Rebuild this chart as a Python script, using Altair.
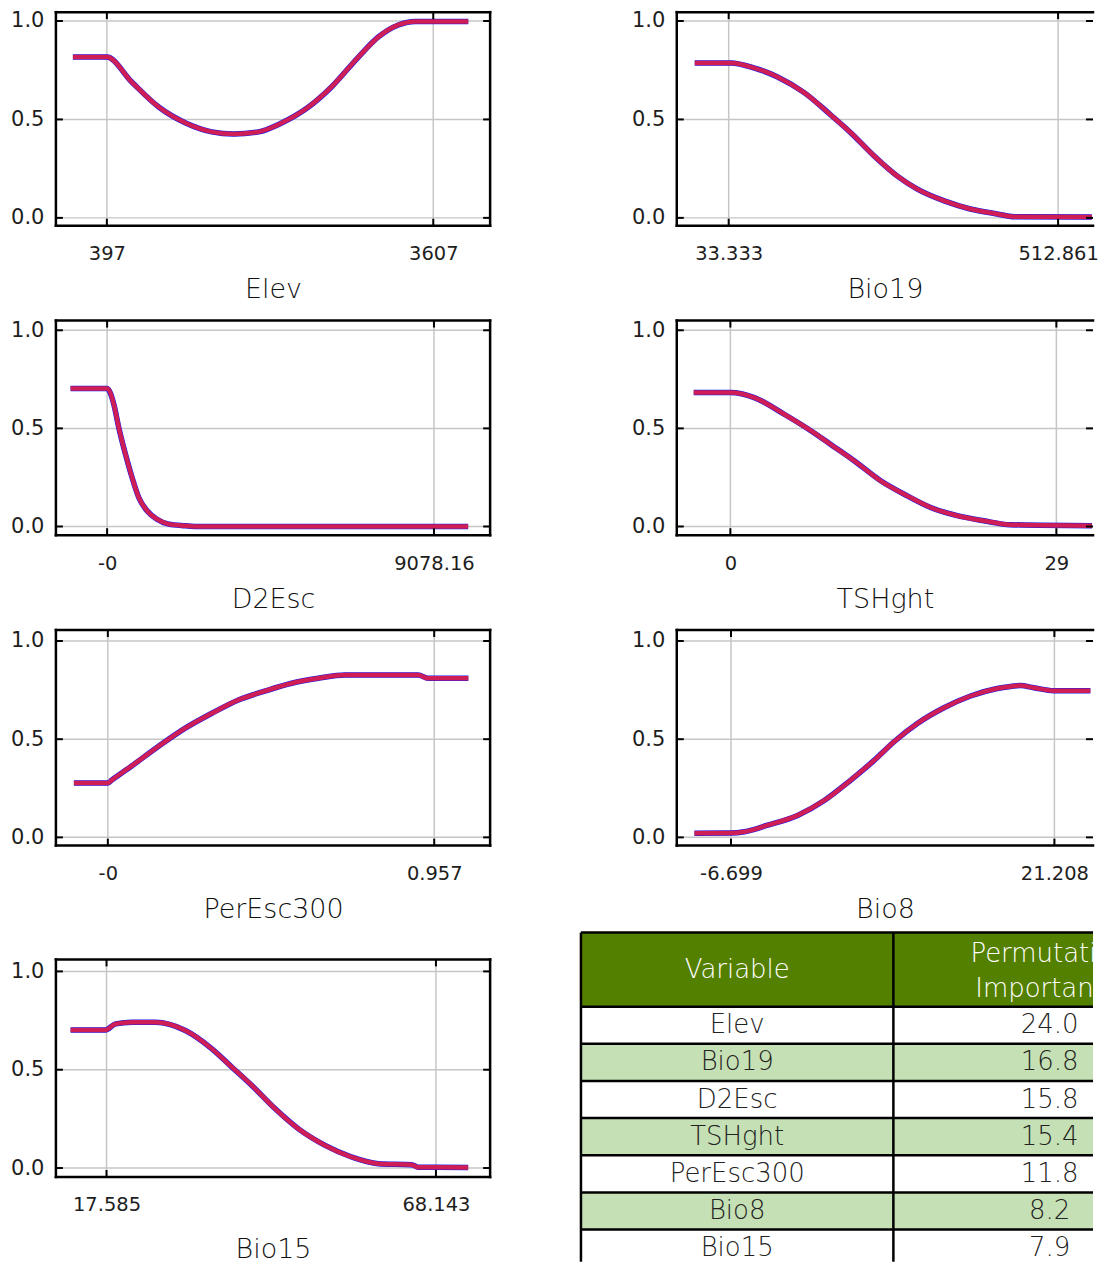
import altair as alt
import pandas as pd

# ---------------- response-curve data ----------------
elev_x = [63, 397, 642, 907, 1172, 1428, 1644, 1889, 2115, 2380, 2606, 2871, 3067, 3263, 3430, 3951]
elev_y = [0.817, 0.817, 0.690, 0.563, 0.482, 0.437, 0.426, 0.437, 0.482, 0.563, 0.665, 0.817, 0.919, 0.980, 0.998, 0.998]

bio19_x = [-16.1, 36.2, 71.1, 104.5, 143.8, 181.5, 210.6, 245.5, 278.9, 308.0, 347.2, 385.0, 424.2, 448.9, 562.0]
bio19_y = [0.787, 0.787, 0.761, 0.716, 0.635, 0.524, 0.434, 0.313, 0.212, 0.146, 0.086, 0.045, 0.020, 0.006, 0.005]

d2esc_x = [-1015, 0, 186, 324, 510, 693, 879, 1109, 1386, 1711, 2174, 2542, 10028]
d2esc_y = [0.703, 0.703, 0.623, 0.504, 0.368, 0.250, 0.148, 0.080, 0.037, 0.012, 0.004, 0.0, 0.0]

tshght_x = [-3.26, 0.0, 2.13, 4.79, 7.16, 8.93, 11.01, 13.37, 15.74, 17.81, 20.18, 22.55, 24.92, 32.17]
tshght_y = [0.683, 0.683, 0.657, 0.572, 0.488, 0.418, 0.335, 0.233, 0.156, 0.097, 0.055, 0.029, 0.009, 0.004]

peresc_x = [-0.0995, 0.0, 0.0126, 0.071, 0.149, 0.227, 0.305, 0.383, 0.462, 0.539, 0.617, 0.696, 0.773, 0.910, 0.939, 1.057]
peresc_y = [0.277, 0.277, 0.293, 0.365, 0.464, 0.556, 0.632, 0.700, 0.746, 0.785, 0.810, 0.827, 0.827, 0.827, 0.810, 0.810]

bio8_x = [-9.85, -6.7, -5.55, -3.54, -0.95, 1.35, 3.64, 5.65, 7.37, 9.38, 11.68, 13.97, 16.27, 18.28, 19.43, 21.16, 24.31]
bio8_y = [0.021, 0.022, 0.029, 0.062, 0.112, 0.188, 0.292, 0.392, 0.487, 0.580, 0.660, 0.720, 0.758, 0.773, 0.762, 0.747, 0.747]

bio15_x = [12.07, 17.43, 18.96, 21.51, 25.09, 29.69, 33.76, 36.83, 39.89, 43.48, 47.05, 51.14, 55.21, 59.30, 64.41, 65.43, 73.09]
bio15_y = [0.702, 0.702, 0.733, 0.741, 0.741, 0.699, 0.606, 0.513, 0.420, 0.301, 0.199, 0.115, 0.056, 0.022, 0.017, 0.004, 0.003]

# axis ticks shown under each panel
elev_ticks, elev_labels = [397, 3607], ["397", "3607"]
bio19_ticks, bio19_labels = [33.333, 512.861], ["33.333", "512.861"]
d2esc_ticks, d2esc_labels = [0, 9078.16], ["-0", "9078.16"]
tshght_ticks, tshght_labels = [0, 29], ["0", "29"]
peresc_ticks, peresc_labels = [0, 0.957], ["-0", "0.957"]
bio8_ticks, bio8_labels = [-6.699, 21.208], ["-6.699", "21.208"]
bio15_ticks, bio15_labels = [17.585, 68.143], ["17.585", "68.143"]
y_ticks = [0, 0.5, 1.0]

# ---------------- table data ----------------
tbl_vars = ["Elev", "Bio19", "D2Esc", "TSHght", "PerEsc300", "Bio8", "Bio15"]
tbl_vals = [24.0, 16.8, 15.8, 15.4, 11.8, 8.2, 7.9]
tbl_header = ["Variable", "Permutation", "Importance"]

NUMFONT = "DejaVu Sans"
TXTFONT = "DejaVu Sans"
BLUE = "#1818f0"
RED = "#d81f4c"


def panel(name, xs, ys, ticks, labels, xdom, width, height, ydom, ytop=None, title_y=64, open_right=False):
    if ytop is None:
        ytop = ydom[1]
    ybot = ydom[0]
    xsc = alt.Scale(domain=xdom, nice=False, zero=False)
    ysc = alt.Scale(domain=ydom, nice=False, zero=False)
    mid = (ticks[0] + ticks[1]) / 2
    xax = alt.Axis(values=ticks,
                   labelExpr=f"datum.value < {mid} ? '{labels[0]}' : '{labels[1]}'",
                   title=name, titleY=title_y, titleBaseline="middle",
                   labelPadding=19, labelFontSize=19.5, ticks=False, tickSize=0, domain=False, grid=False,
                   labelFlush=False)
    yax = alt.Axis(values=y_ticks, format=".1f", title=None, labelPadding=12,
                   ticks=False, tickSize=0, domain=False, grid=False, labelFlush=False)

    def enc(c):
        return c.encode(
            x=alt.X("x:Q", scale=xsc, axis=xax),
            x2=alt.X2("x2:Q"),
            y=alt.Y("y:Q", scale=ysc, axis=yax),
            y2=alt.Y2("y2:Q"),
        )

    dx = 7 * (xdom[1] - xdom[0]) / width
    dy = 7 * (ydom[1] - ydom[0]) / height
    grid = [{"x": xdom[0], "x2": xdom[1], "y": v, "y2": v} for v in y_ticks]
    grid += [{"x": t, "x2": t, "y": ybot, "y2": ytop} for t in ticks]
    tk = []
    for v in y_ticks:
        tk.append({"x": xdom[0], "x2": xdom[0] + dx, "y": v, "y2": v})
        tk.append({"x": xdom[1] - dx, "x2": xdom[1], "y": v, "y2": v})
    for t in ticks:
        tk.append({"x": t, "x2": t, "y": ybot, "y2": ybot + dy})
        tk.append({"x": t, "x2": t, "y": ytop - dy, "y2": ytop})
    frame = [
        {"x": xdom[0], "x2": xdom[1], "y": ybot, "y2": ybot},
        {"x": xdom[0], "x2": xdom[1], "y": ytop, "y2": ytop},
        {"x": xdom[0], "x2": xdom[0], "y": ybot, "y2": ytop},
    ]
    if not open_right:
        frame.append({"x": xdom[1], "x2": xdom[1], "y": ybot, "y2": ytop})

    g = enc(alt.Chart(pd.DataFrame(grid)).mark_rule(color="#c6c6c6", strokeWidth=1.5))
    curve = pd.DataFrame({"x": xs, "y": ys})
    line_enc = dict(x=alt.X("x:Q", scale=xsc, axis=xax), y=alt.Y("y:Q", scale=ysc, axis=yax))
    blue = alt.Chart(curve).mark_line(color=BLUE, strokeWidth=5.5, interpolate="monotone").encode(**line_enc)
    red = alt.Chart(curve).mark_line(color=RED, strokeWidth=4.5, interpolate="monotone", opacity=0.95).encode(**line_enc)
    fr = enc(alt.Chart(pd.DataFrame(frame)).mark_rule(color="black", strokeWidth=2.5, strokeCap="square"))
    t = enc(alt.Chart(pd.DataFrame(tk)).mark_rule(color="black", strokeWidth=2))
    return alt.layer(g, blue, red, fr, t).properties(width=width, height=height)


WL, WR = 435, 417
p_elev = panel("Elev", elev_x, elev_y, elev_ticks, elev_labels, [-104, 4166], WL, 214, [-0.04, 1.045])
p_bio19 = panel("Bio19", bio19_x, bio19_y, bio19_ticks, bio19_labels, [-42.23, 563.7], WR, 214,
                [-0.04, 1.045], open_right=True)
p_d2esc = panel("D2Esc", d2esc_x, d2esc_y, d2esc_ticks, d2esc_labels, [-1422, 10638], WL, 215, [-0.0443, 1.0494])
p_tsh = panel("TSHght", tshght_x, tshght_y, tshght_ticks, tshght_labels, [-4.768, 32.26], WR, 215,
              [-0.0443, 1.0494], open_right=True)
p_per = panel("PerEsc300", peresc_x, peresc_y, peresc_ticks, peresc_labels, [-0.1522, 1.1209], WL, 216, [-0.042, 1.056])
p_bio8 = panel("Bio8", bio8_x, bio8_y, bio8_ticks, bio8_labels, [-11.376, 24.54], WR, 216,
               [-0.042, 1.056], open_right=True)
p_bio15 = panel("Bio15", bio15_x, bio15_y, bio15_ticks, bio15_labels, [9.817, 76.46], WL, 237,
                [-0.0457, 1.1574], ytop=1.0609, title_y=73)

# ---------------- table ----------------
TH = 322                      # table view height (px)
COLW, ROWH = 313.0, 37.2      # column width / row height (px)
XMIN = 96 / COLW              # table starts 96 px left of the view
XMAX = XMIN + WR / COLW
YMIN = 8 / ROWH               # table starts 8 px above the view
YMAX = YMIN + TH / ROWH
n = len(tbl_vars)

fills = [{"x0": 0, "x1": 1, "y0": 0, "y1": 2, "f": "hdr"}, {"x0": 1, "x1": XMAX, "y0": 0, "y1": 2, "f": "hdr"}]
for i in range(n):
    f = "white" if i % 2 == 0 else "green"
    y1 = min(3 + i, YMAX)
    fills.append({"x0": 0, "x1": 1, "y0": 2 + i, "y1": y1, "f": f})
    fills.append({"x0": 1, "x1": XMAX, "y0": 2 + i, "y1": y1, "f": f})
fills_df = pd.DataFrame(fills)

borders = [{"x0": 0, "x1": XMAX, "y0": yb, "y1": yb} for yb in [0] + list(range(2, 2 + n))]
borders += [{"x0": xb, "x1": xb, "y0": 0, "y1": YMAX} for xb in [0, 1]]
borders_df = pd.DataFrame(borders)

body_df = pd.DataFrame({"name": tbl_vars, "val": tbl_vals, "row": [2.5 + i for i in range(n)]})
hdr1_df = pd.DataFrame({"txt": tbl_header[:1], "cx": [0.5], "cy": [1.0]})
hdr2_df = pd.DataFrame({"txt": tbl_header[1:], "cx": [1.5, 1.5], "cy": [0.57, 1.53]})

tx = alt.Scale(domain=[XMIN, XMAX], nice=False, zero=False)
ty = alt.Scale(domain=[YMIN, YMAX], nice=False, zero=False, reverse=True)

t_fill = alt.Chart(fills_df).mark_rect().encode(
    x=alt.X("x0:Q", scale=tx, axis=None), x2="x1:Q",
    y=alt.Y("y0:Q", scale=ty, axis=None), y2="y1:Q",
    color=alt.Color("f:N", scale=alt.Scale(domain=["hdr", "white", "green"],
                                           range=["#548000", "#ffffff", "#c5e0b4"]), legend=None),
)
t_border = alt.Chart(borders_df).mark_rule(color="black", strokeWidth=2.5).encode(
    x=alt.X("x0:Q", scale=tx, axis=None), x2="x1:Q",
    y=alt.Y("y0:Q", scale=ty, axis=None), y2="y1:Q",
)
txt_kw = dict(font=TXTFONT, fontSize=26, fontWeight=300)
t_names = alt.Chart(body_df).mark_text(color="#222222", **txt_kw).encode(
    x=alt.X("cx:Q", scale=tx, axis=None), y=alt.Y("row:Q", scale=ty, axis=None), text="name:N"
).transform_calculate(cx="0.5")
t_vals = alt.Chart(body_df).mark_text(color="#222222", **txt_kw).encode(
    x=alt.X("cx:Q", scale=tx, axis=None), y=alt.Y("row:Q", scale=ty, axis=None),
    text=alt.Text("val:Q", format=".1f")
).transform_calculate(cx="1.5")
t_hdr1 = alt.Chart(hdr1_df).mark_text(color="white", **txt_kw).encode(
    x=alt.X("cx:Q", scale=tx, axis=None), y=alt.Y("cy:Q", scale=ty, axis=None), text="txt:N"
)
t_hdr2 = alt.Chart(hdr2_df).mark_text(color="white", clip=True, **txt_kw).encode(
    x=alt.X("cx:Q", scale=tx, axis=None), y=alt.Y("cy:Q", scale=ty, axis=None), text="txt:N"
)
table = alt.layer(t_fill, t_border, t_names, t_vals, t_hdr1, t_hdr2).properties(width=WR, height=TH)

chart = alt.concat(
    p_elev, p_bio19, p_d2esc, p_tsh, p_per, p_bio8, p_bio15, table,
    columns=2, spacing={"row": 95, "column": 187}, bounds="flush", align="each",
).properties(
    padding={"left": 2, "top": 0, "right": 0, "bottom": 0}
).configure_view(
    stroke="transparent"
).configure_axis(
    labelFont=NUMFONT, labelFontSize=21, labelColor="#1e1e1e",
    titleFont=TXTFONT, titleFontSize=27, titleFontWeight=300, titleColor="#111111",
)

chart.save("out.html", embed_options={"renderer": "svg", "actions": False})
